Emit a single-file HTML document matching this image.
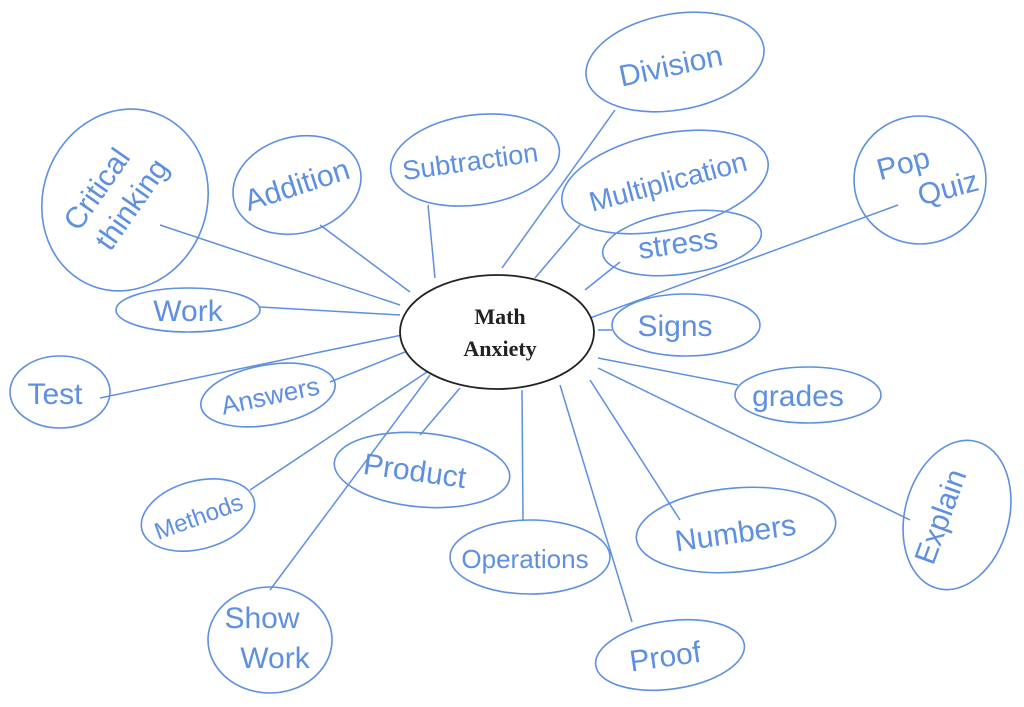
<!DOCTYPE html>
<html><head><meta charset="utf-8"><style>
html,body{margin:0;padding:0;background:#fff;}
svg{display:block}
.n{fill:none;stroke:#5d8fe2;stroke-width:1.6}
.l{stroke:#5d8fe2;stroke-width:1.5;fill:none}
.t{fill:#5d8fe2;font-family:"Liberation Sans",sans-serif;font-size:30px;text-anchor:middle;font-weight:300}
</style></head><body>
<svg width="1024" height="707" viewBox="0 0 1024 707">
<rect width="1024" height="707" fill="#fff"/>
<path class="l" d="M160 225 L400 305"/>
<path class="l" d="M320 225 L410 292"/>
<path class="l" d="M428 205 L435 278"/>
<path class="l" d="M615 110 L502 268"/>
<path class="l" d="M580 225 L535 278"/>
<path class="l" d="M898 205 L590 318"/>
<path class="l" d="M620 262 L585 290"/>
<path class="l" d="M260 307 L400 315"/>
<path class="l" d="M612 330 L598 330"/>
<path class="l" d="M100 398 L402 335"/>
<path class="l" d="M330 382 L410 350"/>
<path class="l" d="M738 385 L598 358"/>
<path class="l" d="M420 435 L460 388"/>
<path class="l" d="M250 490 L430 370"/>
<path class="l" d="M910 520 L598 368"/>
<path class="l" d="M523 520 L522 390"/>
<path class="l" d="M680 520 L590 380"/>
<path class="l" d="M270 590 L430 375"/>
<path class="l" d="M632 622 L560 385"/>
<ellipse class="n" cx="125" cy="200" rx="82" ry="92" transform="rotate(20 125 200)"/>
<text class="t" transform="translate(105 195) rotate(-55)">Critical</text>
<text class="t" transform="translate(140 210) rotate(-55)">thinking</text>
<ellipse class="n" cx="297" cy="185" rx="65" ry="48" transform="rotate(-15 297 185)"/>
<text class="t" x="297" y="195" transform="rotate(-18 297 185)">Addition</text>
<ellipse class="n" cx="475" cy="160" rx="85" ry="45" transform="rotate(-8 475 160)"/>
<text class="t" x="470" y="170" style="font-size:27px" transform="rotate(-8 475 160)">Subtraction</text>
<ellipse class="n" cx="675" cy="62" rx="90" ry="48" transform="rotate(-10 675 62)"/>
<text class="t" x="670" y="75" transform="rotate(-12 675 62)">Division</text>
<ellipse class="n" cx="665" cy="182" rx="105" ry="48" transform="rotate(-12 665 182)"/>
<text class="t" x="668" y="192" style="font-size:28px" transform="rotate(-15 665 182)">Multiplication</text>
<ellipse class="n" cx="920" cy="180" rx="66" ry="64"/>
<text class="t" x="908" y="170" transform="rotate(-15 920 180)">Pop</text>
<text class="t" x="945" y="205" transform="rotate(-15 920 180)">Quiz</text>
<ellipse class="n" cx="682" cy="243" rx="80" ry="31" transform="rotate(-8 682 243)"/>
<text class="t" x="678" y="253" transform="rotate(-8 682 243)">stress</text>
<ellipse class="n" cx="188" cy="310" rx="72" ry="22"/>
<text class="t" x="188" y="321">Work</text>
<ellipse class="n" cx="686" cy="325" rx="74" ry="31"/>
<text class="t" x="675" y="336">Signs</text>
<ellipse class="n" cx="60" cy="392" rx="50" ry="36"/>
<text class="t" x="55" y="404">Test</text>
<ellipse class="n" cx="268" cy="395" rx="68" ry="30" transform="rotate(-10 268 395)"/>
<text class="t" x="270" y="405" style="font-size:26px" transform="rotate(-12 268 395)">Answers</text>
<ellipse class="n" cx="808" cy="395" rx="73" ry="28"/>
<text class="t" x="798" y="406">grades</text>
<ellipse class="n" cx="422" cy="470" rx="88" ry="37" transform="rotate(5 422 470)"/>
<text class="t" x="415" y="482" transform="rotate(8 422 470)">Product</text>
<ellipse class="n" cx="198" cy="515" rx="58" ry="34" transform="rotate(-15 198 515)"/>
<text class="t" x="198" y="525" style="font-size:24px" transform="rotate(-20 198 515)">Methods</text>
<ellipse class="n" cx="957" cy="515" rx="52" ry="76" transform="rotate(15 957 515)"/>
<text class="t" transform="translate(950 520) rotate(-70)">Explain</text>
<ellipse class="n" cx="530" cy="557" rx="80" ry="37"/>
<text class="t" x="525" y="568" style="font-size:26px">Operations</text>
<ellipse class="n" cx="736" cy="530" rx="100" ry="42" transform="rotate(-5 736 530)"/>
<text class="t" x="735" y="543" transform="rotate(-8 736 530)">Numbers</text>
<ellipse class="n" cx="270" cy="640" rx="62" ry="53"/>
<text class="t" x="262" y="628">Show</text>
<text class="t" x="275" y="668">Work</text>
<ellipse class="n" cx="670" cy="655" rx="75" ry="34" transform="rotate(-8 670 655)"/>
<text class="t" x="665" y="666" transform="rotate(-8 670 655)">Proof</text>
<ellipse cx="497" cy="332" rx="97" ry="57" fill="#fff" stroke="#222" stroke-width="1.8"/>
<text x="500" y="324" text-anchor="middle" font-family="Liberation Serif,serif" font-weight="bold" font-size="22" fill="#222">Math</text>
<text x="500" y="356" text-anchor="middle" font-family="Liberation Serif,serif" font-weight="bold" font-size="22" fill="#222">Anxiety</text>
</svg>
</body></html>
